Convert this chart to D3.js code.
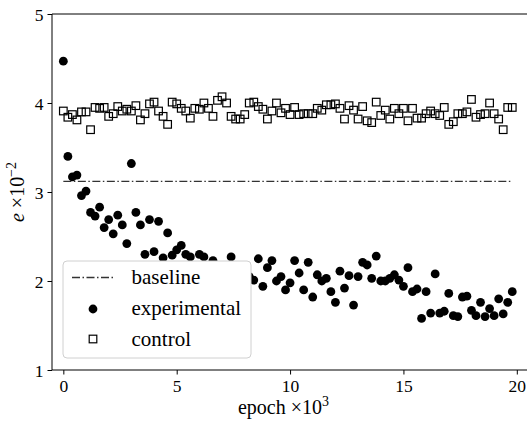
<!DOCTYPE html>
<html>
<head>
<meta charset="utf-8">
<script src="https://cdn.jsdelivr.net/npm/d3@7"></script>
<style>
  body { margin: 0; background: #fff; }
  svg { display: block; }
  svg text { font-family: "Liberation Serif", "Times New Roman", serif; }
</style>
</head>
<body>
<div class="chart"></div>
<script>
// epochs (x10^3)
var epochs = [0.0,0.2,0.4,0.6,0.8,1.0,1.2,1.4,1.6,1.8,2.0,2.2,2.4,2.6,2.8,3.0,3.2,3.4,3.6,3.8,
  4.0,4.2,4.4,4.6,4.8,5.0,5.2,5.4,5.6,5.8,6.0,6.2,6.4,6.6,6.8,7.0,7.2,7.4,7.6,7.8,
  8.0,8.2,8.4,8.6,8.8,9.0,9.2,9.4,9.6,9.8,10.0,10.2,10.4,10.6,10.8,11.0,11.2,11.4,11.6,11.8,
  12.0,12.2,12.4,12.6,12.8,13.0,13.2,13.4,13.6,13.8,14.0,14.2,14.4,14.6,14.8,15.0,15.2,15.4,15.6,15.8,
  16.0,16.2,16.4,16.6,16.8,17.0,17.2,17.4,17.6,17.8,18.0,18.2,18.4,18.6,18.8,19.0,19.2,19.4,19.6,19.8];

var experimental = [4.47,3.40,3.17,3.19,2.96,3.01,2.77,2.73,2.83,2.60,2.69,2.53,2.74,2.63,2.42,3.32,2.77,2.63,2.30,2.69,
  2.33,2.67,2.26,2.54,2.29,2.35,2.40,2.30,2.27,2.15,2.30,2.27,2.12,2.23,2.10,2.05,2.15,2.27,2.00,2.10,
  1.98,2.05,2.01,2.25,1.94,2.15,2.23,2.00,2.05,1.90,1.98,2.23,2.09,1.90,2.21,1.82,2.07,2.00,2.03,1.88,
  1.76,2.11,1.92,2.06,1.73,2.05,2.21,2.18,2.03,2.28,2.00,2.00,2.03,2.07,2.01,1.94,2.15,1.88,1.91,1.58,
  1.88,1.64,2.08,1.64,1.66,1.86,1.61,1.60,1.82,1.83,1.67,1.61,1.76,1.60,1.69,1.61,1.80,1.63,1.76,1.88];

var control = [3.91,3.84,3.87,3.81,3.90,3.90,3.70,3.95,3.94,3.95,3.85,3.88,3.96,3.91,3.93,3.91,3.97,3.81,3.88,3.99,
  4.01,3.91,3.85,3.76,4.01,3.99,3.94,3.91,3.83,3.94,3.93,4.00,3.94,3.85,4.03,4.07,4.00,3.85,3.82,3.82,
  3.87,4.00,4.01,3.96,3.93,3.82,3.91,4.00,3.89,3.94,3.87,3.95,3.87,3.88,3.88,3.88,3.94,3.92,3.98,3.98,
  3.99,3.94,3.82,3.97,3.92,3.82,3.96,3.80,3.78,4.01,3.86,3.92,3.82,3.94,3.88,3.94,3.80,3.94,3.83,3.83,
  3.88,3.91,3.88,3.86,3.95,3.76,3.79,3.88,3.88,3.90,4.04,3.84,3.87,3.88,4.00,3.88,3.82,3.70,3.95,3.95];

var baseline = 3.12;
var baselineSpan = [0, 19.8];
var xTicks = [0, 5, 10, 15, 20];
var yTicks = [1, 2, 3, 4, 5];
var legendLabels = ["baseline", "experimental", "control"];

var W = 527, H = 423;
var svg = d3.select(".chart").append("svg").attr("width", W).attr("height", H);

var x = d3.scaleLinear().domain([-0.5, 20.45]).range([52, 527]);
var y = d3.scaleLinear().domain([1, 5]).range([370, 14]);

// axes
var xAxis = svg.append("g")
  .attr("transform", `translate(0,${y(1)})`)
  .call(d3.axisBottom(x).tickValues(xTicks).tickSize(4.5).tickPadding(5).tickFormat(d3.format("d")));
var yAxis = svg.append("g")
  .attr("transform", `translate(${x(-0.5)},0)`)
  .call(d3.axisLeft(y).tickValues(yTicks).tickSize(4.5).tickPadding(4).tickFormat(d3.format("d")));
[xAxis, yAxis].forEach(function (a) {
  a.attr("font-family", null).attr("font-size", null);
  a.select(".domain").remove();
  a.selectAll("line").attr("stroke", "#000").attr("stroke-width", 1);
  a.selectAll("text").attr("fill", "#000").style("font-size", "17.5px");
});
yAxis.selectAll("text").attr("dy", "0.36em");

// spines: left, bottom, top
var grp = svg.append("g").attr("fill", "none").attr("stroke", "#000").attr("stroke-width", 1);
grp.append("line").attr("x1", x(-0.5)).attr("x2", x(-0.5)).attr("y1", y(1)).attr("y2", y(5));
grp.append("line").attr("x1", x(-0.5)).attr("x2", W).attr("y1", y(1)).attr("y2", y(1));
grp.append("line").attr("x1", x(-0.5)).attr("x2", W).attr("y1", y(5)).attr("y2", y(5));

// baseline
svg.append("line")
  .attr("x1", x(baselineSpan[0])).attr("x2", x(baselineSpan[1]))
  .attr("y1", y(baseline)).attr("y2", y(baseline))
  .attr("stroke", "#333").attr("stroke-width", 1.3)
  .attr("stroke-dasharray", "8,2.5,1.5,2.5");

// experimental
svg.append("g").selectAll("circle")
  .data(experimental)
  .join("circle")
  .attr("cx", (d, i) => x(epochs[i]))
  .attr("cy", d => y(d))
  .attr("r", 4.4)
  .attr("fill", "#000");

// control
var sq = 7.6;
svg.append("g").selectAll("rect")
  .data(control)
  .join("rect")
  .attr("x", (d, i) => x(epochs[i]) - sq / 2)
  .attr("y", d => y(d) - sq / 2)
  .attr("width", sq).attr("height", sq)
  .attr("fill", "none")
  .attr("stroke", "#000").attr("stroke-width", 1.2);

// legend
var leg = svg.append("g");
leg.append("rect")
  .attr("x", 63).attr("y", 261).attr("width", 188).attr("height", 97)
  .attr("rx", 4)
  .attr("fill", "#fff").attr("stroke", "#d0d0d0").attr("stroke-width", 1);
leg.append("line")
  .attr("x1", 72).attr("x2", 113).attr("y1", 277.5).attr("y2", 277.5)
  .attr("stroke", "#333").attr("stroke-width", 1.3)
  .attr("stroke-dasharray", "8,2.5,1.5,2.5");
leg.append("circle").attr("cx", 93).attr("cy", 309).attr("r", 4.4).attr("fill", "#000");
leg.append("rect").attr("x", 93 - sq / 2).attr("y", 339 - sq / 2).attr("width", sq).attr("height", sq)
  .attr("fill", "none").attr("stroke", "#000").attr("stroke-width", 1.2);
leg.selectAll("text.lab")
  .data(legendLabels)
  .join("text")
  .attr("class", "lab")
  .attr("x", 131.5)
  .attr("y", (d, i) => 284 + i * 31)
  .style("font-size", "21px")
  .text(d => d);

// axis labels
var xl = svg.append("text")
  .attr("x", 283.5).attr("y", 414)
  .attr("text-anchor", "middle")
  .style("font-size", "20px");
xl.append("tspan").text("epoch ×10");
xl.append("tspan").attr("dy", -8).style("font-size", "14px").text("3");

var yl = svg.append("text")
  .attr("transform", `translate(24,${y(3)}) rotate(-90)`)
  .attr("text-anchor", "middle")
  .style("font-size", "20px");
yl.append("tspan").style("font-style", "italic").text("e");
yl.append("tspan").text(" ×10");
yl.append("tspan").attr("dy", -8).style("font-size", "14px").text("−2");
</script>
</body>
</html>
